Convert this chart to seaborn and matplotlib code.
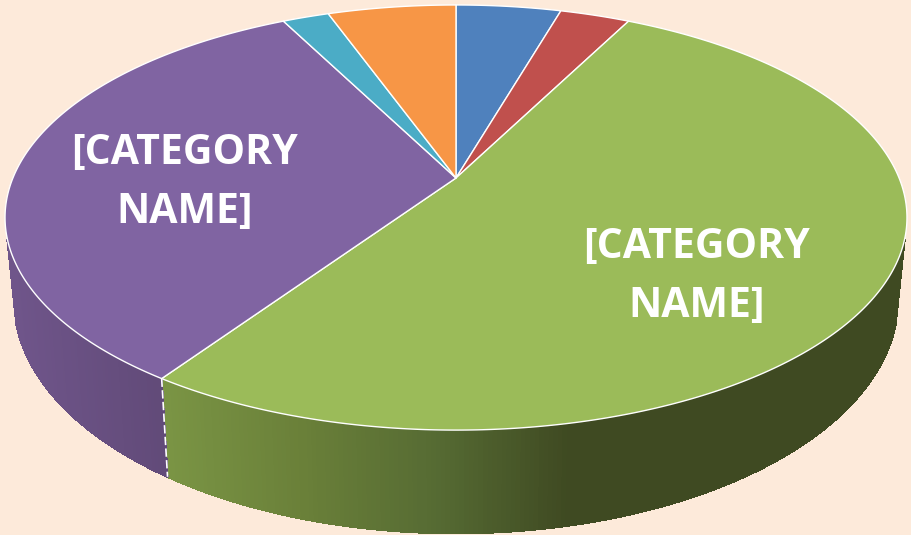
import numpy as np
import matplotlib
matplotlib.use('Agg')
import matplotlib.pyplot as plt
import seaborn as sns

# slice shares in percent, clockwise from 12 o'clock
categories = ['Blue', 'Red', 'Green', 'Purple', 'Teal', 'Orange']
shares = [4.5, 3.0, 52.0, 33.0, 2.0, 5.5]
top_colors = ['#4F81BD', '#C0504D', '#9BBB59', '#8064A2', '#4BACC6', '#F79646']
label_text = '[CATEGORY\nNAME]'

BG = '#FDEADA'
# pie apex in pixels and the perspective of the disc
CX, CY = 456, 178
A, B, K = 443.1, 205.2, 0.186
DEPTH, SHRINK_X, SHRINK_Y = 79, 0.98, 1.096


def rim(theta, lower=False):
    # theta is measured clockwise from the top of the pie
    u, v = np.sin(theta), -np.cos(theta)
    w = 1 - K * v
    x, y = A * u / w, B * v / w
    if lower:
        return CX + SHRINK_X * x, CY + SHRINK_Y * y + DEPTH
    return CX + x, CY + y


sns.set_theme(style='white', rc={'figure.facecolor': BG, 'axes.facecolor': BG})
plt.rcParams['font.family'] = ['Open Sans', 'DejaVu Sans']

fig = plt.figure(figsize=(9.11, 5.35), dpi=100)
ax = fig.add_axes([0, 0, 1, 1])
ax.set_xlim(0, 911)
ax.set_ylim(535, 0)
ax.axis('off')

edges = np.radians(np.cumsum([0] + shares) * 3.6)

# side wall shading runs left to right
purple_side = sns.blend_palette(['#6F558A', '#614A78'], 256)
green_side = sns.blend_palette(['#7A9444', '#6A8039', '#566B33', '#3F4A22', '#3F4A22'], 256)


def shade(palette, x, x0, x1):
    i = int(np.clip((x - x0) / (x1 - x0), 0, 1) * 255)
    return palette[i]


for start, stop, name in zip(edges[:-1], edges[1:], categories):
    if name == 'Green':
        palette, x0, x1 = green_side, 165, 700
    elif name == 'Purple':
        palette, x0, x1 = purple_side, 10, 165
    else:
        continue
    ts = np.linspace(start, stop, int(np.degrees(stop - start) * 2) + 2)
    for t0, t1 in zip(ts[:-1], ts[1:]):
        # only the front of the wall shows
        if np.cos(t0) > -0.28 or np.cos(t1) > -0.28:
            continue
        xa, ya = rim(np.array([t0, t1]))
        xb, yb = rim(np.array([t1, t0]), lower=True)
        c = shade(palette, xa.mean(), x0, x1)
        ax.fill(np.r_[xa, xb], np.r_[ya, yb], color=c, lw=0.8, antialiased=False, zorder=2)

# white seam down the wall between purple and green
seam = edges[3]
x_top, y_top = rim(seam)
x_low, y_low = rim(seam, lower=True)
ax.plot([x_top, x_low], [y_top, y_low], color='white', lw=1.2, dashes=(5, 2), zorder=3)

# top of the pie
for start, stop, color in zip(edges[:-1], edges[1:], top_colors):
    ts = np.linspace(start, stop, int(np.degrees(stop - start) * 2) + 2)
    xs, ys = rim(ts)
    ax.fill(np.r_[CX, xs], np.r_[CY, ys], facecolor=color, edgecolor='white',
            lw=1.0, joinstyle='round', zorder=4)

ax.text(185, 183, label_text, color='white', fontsize=29.5, fontweight='bold',
        ha='center', va='center', linespacing=1.55, zorder=5)
ax.text(697, 277, label_text, color='white', fontsize=29.5, fontweight='bold',
        ha='center', va='center', linespacing=1.55, zorder=5)

fig.savefig('out.png', dpi=100, facecolor=BG)
